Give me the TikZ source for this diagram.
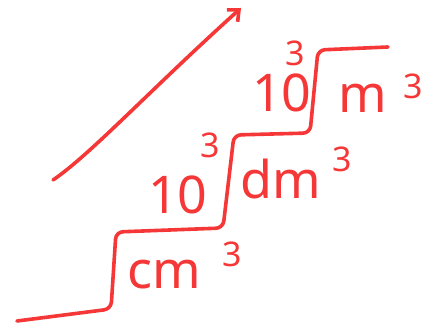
\documentclass[tikz,border=0pt]{standalone}
\usepackage{fontspec}
\setmainfont{Noto Sans}
\usetikzlibrary{arrows.meta}
\definecolor{pen}{RGB}{245,55,55}
\tikzset{
  ink/.style={draw=pen, line width=3.6pt, line cap=round, line join=round},
  big/.style={text=pen, inner sep=0pt, anchor=base west, font=\fontsize{52}{52}\selectfont},
  sup/.style={text=pen, inner sep=0pt, anchor=base west, font=\fontsize{34}{34}\selectfont}
}
\begin{document}
\begin{tikzpicture}[x=1pt,y=-1pt]
\useasboundingbox (0,0) rectangle (429,328);
% staircase
\draw[ink, rounded corners=7pt]
  (17,321) -- (111,309) -- (116,232) -- (223,228) -- (234,135)
  -- (310,133) -- (318,50) -- (388,47);
% arrow
\coordinate (a0) at (53,180);
\coordinate (a1) at (241,8);
\draw[ink, -{Straight Barb[length=9pt,width=16pt]}]
  (a0) .. controls (90,155) and (150,90) .. (a1);
% labels
\node[big] (cm) at (127,289) {cm};
\node[sup] (cm3) at (222,267) {3};
\node[big] (ten1) at (148,214) {10};
\node[sup] (ten1e) at (200,158) {3};
\node[big] (dm) at (240,199) {dm};
\node[sup] (dm3) at (332,172) {3};
\node[big] (ten2) at (252,112) {10};
\node[sup] (ten2e) at (285,66) {3};
\node[big] (m) at (338,113) {m};
\node[sup] (m3) at (403,99) {3};
\end{tikzpicture}
\end{document}
